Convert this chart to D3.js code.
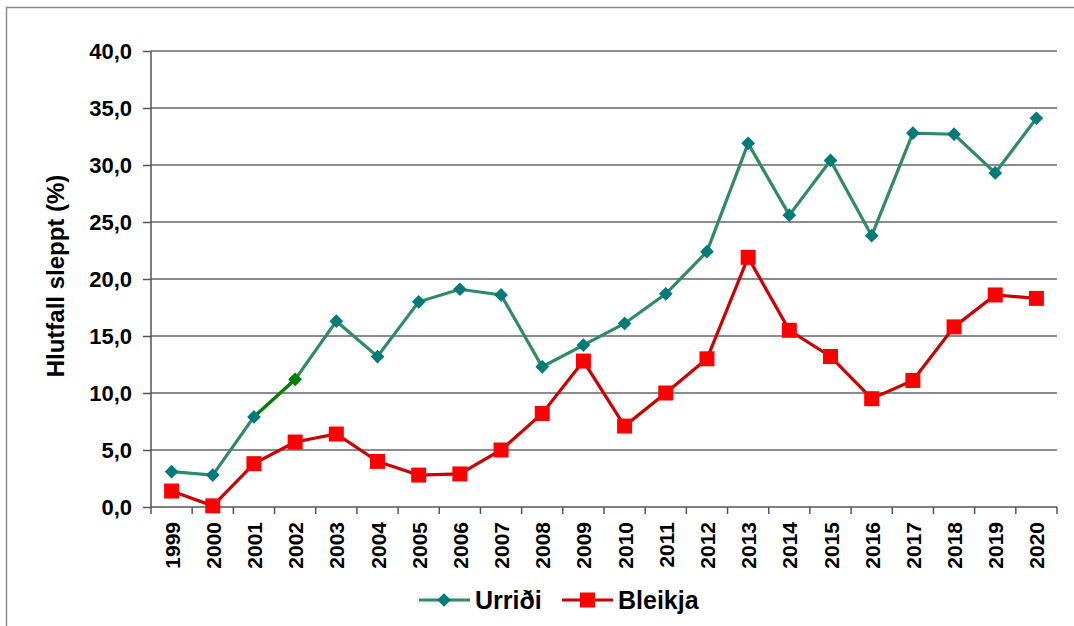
<!DOCTYPE html>
<html>
<head>
<meta charset="utf-8">
<script src="https://cdn.jsdelivr.net/npm/d3@7"></script>
<style>
  html, body { margin: 0; padding: 0; background: #fff; }
  svg { display: block; font-family: "Liberation Sans", Arial, sans-serif; }
</style>
</head>
<body>
<div id="chart"></div>
<script>
// data
const years = ["1999","2000","2001","2002","2003","2004","2005","2006","2007","2008","2009",
               "2010","2011","2012","2013","2014","2015","2016","2017","2018","2019","2020"];
const urridi = [3.1, 2.8, 7.9, 11.2, 16.3, 13.2, 18.0, 19.1, 18.6, 12.3, 14.2,
                16.1, 18.7, 22.4, 31.9, 25.6, 30.4, 23.8, 32.8, 32.7, 29.3, 34.1];
const bleikja = [1.4, 0.1, 3.8, 5.7, 6.4, 4.0, 2.8, 2.9, 5.0, 8.2, 12.8,
                 7.1, 10.0, 13.0, 21.9, 15.5, 13.2, 9.5, 11.1, 15.8, 18.6, 18.3];
const yTicks = [0, 5, 10, 15, 20, 25, 30, 35, 40];
const seriesNames = ["Urriði", "Bleikja"];

const width = 1074, height = 626;
const margin = ({ top: 51, right: 17, bottom: 119, left: 151 });

const svg = d3.select("#chart").append("svg")
    .attr("width", width)
    .attr("height", height);

// outer frame (runs off the right and bottom edge)
svg.append("rect")
    .attr("x", 6.5).attr("y", 7.5)
    .attr("width", 1200).attr("height", 800)
    .attr("fill", "none")
    .attr("stroke", "#8a8a8a")
    .attr("stroke-width", 1.5);

let x = d3.scaleBand()
    .domain(years)
    .range([margin.left, width - margin.right])
    .padding(0);

let y = d3.scaleLinear()
    .domain([0, 40])
    .range([height - margin.bottom, margin.top]);

const cx = d => x(d) + x.bandwidth() / 2;

// gridlines
svg.append("g")
    .selectAll("line")
    .data(yTicks.filter(d => d > 0))
    .join("line")
    .attr("x1", margin.left).attr("x2", width - margin.right)
    .attr("y1", d => y(d)).attr("y2", d => y(d))
    .attr("stroke", "#8c8c8c")
    .attr("stroke-width", 2);

// y axis
let yAxis = g => g
    .attr("transform", `translate(${margin.left},0)`)
    .call(d3.axisLeft(y).tickValues(yTicks).tickSize(8).tickPadding(11)
        .tickFormat(d => d3.format(".1f")(d).replace(".", ",")))
    .call(g => g.selectAll("line, path").attr("stroke", "#555").attr("stroke-width", 1.5))
    .call(g => g.select(".domain").attr("d", `M0,${y(0)}V${y(40)}`))
    .selectAll("text")
    .attr("fill", "#000")
    .attr("dy", "0.36em")
    .style("font-size", "22px")
    .style("font-weight", "bold");

svg.append("g").call(yAxis);

// x axis: ticks on category boundaries
let xAxisG = svg.append("g")
    .attr("transform", `translate(0,${y(0)})`);

xAxisG.append("line")
    .attr("x1", margin.left).attr("x2", width - margin.right)
    .attr("stroke", "#555").attr("stroke-width", 1.5);

xAxisG.selectAll(".tk")
    .data(years.concat(["end"]))
    .join("line")
    .attr("class", "tk")
    .attr("x1", (d, i) => i < years.length ? x(d) : width - margin.right)
    .attr("x2", (d, i) => i < years.length ? x(d) : width - margin.right)
    .attr("y1", 0).attr("y2", 7)
    .attr("stroke", "#555").attr("stroke-width", 1.5);

xAxisG.selectAll(".lbl")
    .data(years)
    .join("text")
    .attr("class", "lbl")
    .attr("transform", d => `translate(${cx(d) + 8},15) rotate(-90)`)
    .attr("text-anchor", "end")
    .style("font-size", "21px")
    .style("font-weight", "bold")
    .text(d => d);

// y axis title
svg.append("text")
    .attr("transform", `translate(64,${(y(0) + y(40)) / 2 - 3}) rotate(-90)`)
    .attr("text-anchor", "middle")
    .style("font-size", "24px")
    .style("font-weight", "bold")
    .text("Hlutfall sleppt (%)");

const line = d3.line()
    .x((d, i) => cx(years[i]))
    .y(d => y(d));

const greenLine = "#2e8b66", greenMark = "#007a7a", darkGreen = "#008000";
const redLine = "#cc0000", redMark = "#ff0000";

// Bleikja
svg.append("path")
    .datum(bleikja)
    .attr("fill", "none")
    .attr("stroke", redLine)
    .attr("stroke-width", 3.2)
    .attr("d", line);

svg.append("g")
    .selectAll("rect")
    .data(bleikja)
    .join("rect")
    .attr("x", (d, i) => cx(years[i]) - 7.5)
    .attr("y", d => y(d) - 7.5)
    .attr("width", 15).attr("height", 15)
    .attr("fill", redMark);

// Urriði
svg.append("path")
    .datum(urridi)
    .attr("fill", "none")
    .attr("stroke", greenLine)
    .attr("stroke-width", 3.2)
    .attr("d", line);

// 2001-2002 segment drawn darker
svg.append("line")
    .attr("x1", cx(years[2])).attr("y1", y(urridi[2]))
    .attr("x2", cx(years[3])).attr("y2", y(urridi[3]))
    .attr("stroke", darkGreen)
    .attr("stroke-width", 3.2);

const diamond = d3.symbol().type(d3.symbolDiamond2).size(120);

svg.append("g")
    .selectAll("path")
    .data(urridi)
    .join("path")
    .attr("transform", (d, i) => `translate(${cx(years[i])},${y(d)})`)
    .attr("d", diamond)
    .attr("fill", (d, i) => i === 3 ? darkGreen : greenMark);

// legend
const legend = svg.append("g").attr("transform", "translate(0,600)");
const legendItems = [
    { name: seriesNames[0], x0: 419, line: greenLine, mark: greenMark, type: "diamond" },
    { name: seriesNames[1], x0: 562, line: redLine, mark: redMark, type: "square" }
];
legendItems.forEach(it => {
    legend.append("line")
        .attr("x1", it.x0).attr("x2", it.x0 + 51)
        .attr("stroke", it.line).attr("stroke-width", 3.2);
    if (it.type === "diamond") {
        legend.append("path")
            .attr("transform", `translate(${it.x0 + 25},0)`)
            .attr("d", diamond)
            .attr("fill", it.mark);
    } else {
        legend.append("rect")
            .attr("x", it.x0 + 18).attr("y", -7.5)
            .attr("width", 15).attr("height", 15)
            .attr("fill", it.mark);
    }
    legend.append("text")
        .attr("x", it.x0 + 56)
        .attr("y", 9)
        .style("font-size", "25px")
        .style("font-weight", "bold")
        .text(it.name);
});
</script>
</body>
</html>
